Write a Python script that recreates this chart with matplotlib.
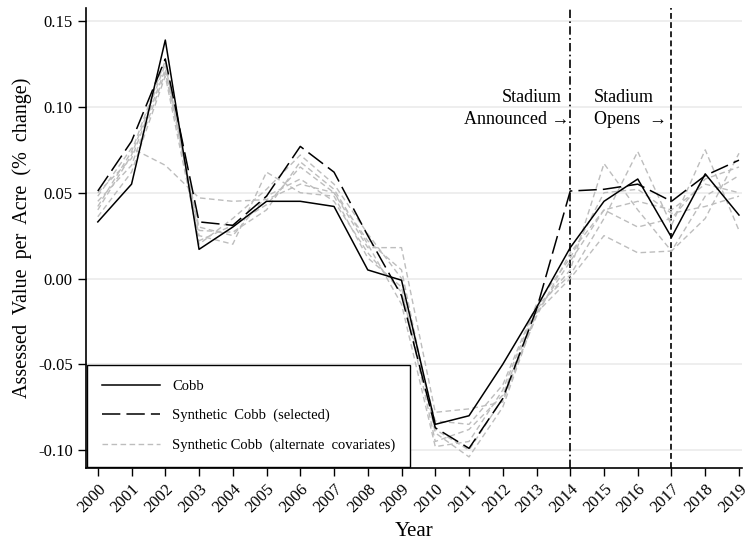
import matplotlib
matplotlib.use("Agg")
import matplotlib.pyplot as plt
from matplotlib.ticker import FormatStrFormatter

plt.rcParams['font.family'] = ['Liberation Serif', 'DejaVu Serif']
plt.rcParams['axes.unicode_minus'] = False

years = list(range(2000, 2020))

cobb = [0.033, 0.055, 0.139, 0.017, 0.030, 0.045, 0.045, 0.042, 0.005, -0.001,
        -0.085, -0.080, -0.050, -0.017, 0.018, 0.045, 0.058, 0.024, 0.061, 0.037]
synth_selected = [0.051, 0.080, 0.128, 0.033, 0.031, 0.048, 0.077, 0.062, 0.025, -0.010,
                  -0.087, -0.099, -0.070, -0.018, 0.051, 0.052, 0.055, 0.045, 0.060, 0.069]

# synthetic controls built with alternate covariate sets
alt_a = [0.048, 0.076, 0.066, 0.047, 0.045, 0.046, 0.055, 0.050, 0.018, 0.018,
         -0.078, -0.076, -0.072, -0.020, 0.010, 0.040, 0.045, 0.040, 0.055, 0.050]
alt_b = [0.040, 0.072, 0.125, 0.025, 0.020, 0.062, 0.050, 0.048, 0.012, -0.005,
         -0.095, -0.088, -0.068, -0.018, 0.005, 0.067, 0.040, 0.016, 0.035, 0.073]
alt_c = [0.050, 0.070, 0.122, 0.028, 0.027, 0.040, 0.068, 0.052, 0.020, -0.015,
         -0.098, -0.095, -0.065, -0.016, 0.002, 0.035, 0.074, 0.031, 0.075, 0.028]
alt_d = [0.036, 0.062, 0.118, 0.022, 0.031, 0.043, 0.065, 0.050, 0.022, 0.005,
         -0.090, -0.104, -0.075, -0.020, 0.000, 0.025, 0.015, 0.016, 0.048, 0.060]
alt_e = [0.045, 0.066, 0.120, 0.030, 0.025, 0.048, 0.058, 0.045, 0.015, -0.008,
         -0.083, -0.085, -0.062, -0.015, 0.012, 0.050, 0.052, 0.038, 0.042, 0.048]
alt_f = [0.042, 0.074, 0.127, 0.020, 0.035, 0.052, 0.072, 0.055, 0.026, 0.000,
         -0.088, -0.100, -0.070, -0.022, 0.015, 0.040, 0.030, 0.035, 0.058, 0.065]
alternates = [alt_a, alt_b, alt_c, alt_d, alt_e, alt_f]

announce_year = 2014
open_year = 2017

fig = plt.figure(figsize=(7.51, 5.43), dpi=100)
ax = fig.add_axes([0.1145, 0.138, 0.874, 0.847])

for i, alt in enumerate(alternates):
    ax.plot(years, alt, color='#bdbdbd', lw=1.0, dashes=(4, 2.5),
            label='Synthetic Cobb  (alternate  covariates)' if i == 0 else None,
            zorder=2)
ax.plot(years, synth_selected, color='black', lw=1.1, dashes=(12, 4),
        label='Synthetic  Cobb  (selected)', zorder=3)
ax.plot(years, cobb, color='black', lw=1.1, label='Cobb', zorder=4)

ax.axvline(announce_year, color='black', lw=1.2, dashes=(5, 2, 1, 2), zorder=1)
ax.axvline(open_year, color='black', lw=1.2, dashes=(3.5, 2), zorder=1)

ax.text(2012.85, 0.1055, 'Stadium', ha='center', va='center', fontsize=13)
ax.text(2013.98, 0.0925, 'Announced \u2192', ha='right', va='center', fontsize=13)
ax.text(2014.7, 0.1055, 'Stadium', ha='left', va='center', fontsize=13)
ax.text(2014.7, 0.0925, 'Opens  \u2192', ha='left', va='center', fontsize=13)

ax.set_xlim(1999.65, 2019.1)
ax.set_ylim(-0.1105, 0.1576)
ax.set_xticks(years)
ax.set_xticklabels([str(y) for y in years], rotation=45, ha='right',
                   rotation_mode='anchor', fontsize=12)
ax.set_yticks([-0.10, -0.05, 0.00, 0.05, 0.10, 0.15])
ax.yaxis.set_major_formatter(FormatStrFormatter('%.2f'))
ax.tick_params(axis='y', labelsize=12, length=6, width=1)
ax.tick_params(axis='x', length=6, width=1)
ax.grid(axis='y', color='#ebebeb', lw=1.2)
ax.set_axisbelow(True)

for side in ('top', 'right'):
    ax.spines[side].set_visible(False)
ax.spines['left'].set_linewidth(1.2)
ax.spines['bottom'].set_linewidth(1.2)

ax.set_xlabel('Year', fontsize=15)
ax.set_ylabel('Assessed  Value  per  Acre  (%  change)', fontsize=14.5)

handles, labels = ax.get_legend_handles_labels()
order = [2, 1, 0]
leg = ax.legend([handles[i] for i in order], [labels[i] for i in order],
                loc='lower left', bbox_to_anchor=(0.0, 0.0), borderaxespad=0.1,
                fontsize=10.5, fancybox=False, framealpha=1, edgecolor='black',
                handlelength=4, borderpad=1.0, labelspacing=1.1)
leg.get_frame().set_linewidth(1.0)

fig.savefig('out.png', dpi=100)
